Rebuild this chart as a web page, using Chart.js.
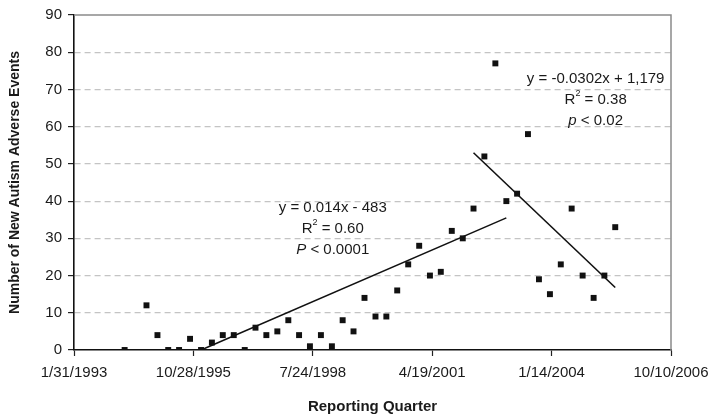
<!DOCTYPE html>
<html>
<head>
<meta charset="utf-8">
<script src="https://cdn.jsdelivr.net/npm/chart.js@4/dist/chart.umd.min.js"></script>
<style>
  html, body { margin: 0; padding: 0; background: #fff; }
  #wrap { width: 711px; height: 419px; }
</style>
</head>
<body>
<div id="wrap"><canvas id="chart"></canvas></div>
<script>
// quarter-end dates and counts of new autism adverse events
const quarters = [
  "1994-03-31", "1994-09-30", "1994-12-31",
  "1995-03-31", "1995-06-30", "1995-09-30", "1995-12-31",
  "1996-03-31", "1996-06-30", "1996-09-30", "1996-12-31",
  "1997-03-31", "1997-06-30", "1997-09-30", "1997-12-31",
  "1998-03-31", "1998-06-30", "1998-09-30", "1998-12-31",
  "1999-03-31", "1999-06-30", "1999-09-30", "1999-12-31",
  "2000-03-31", "2000-06-30", "2000-09-30", "2000-12-31",
  "2001-03-31", "2001-06-30", "2001-09-30", "2001-12-31",
  "2002-03-31", "2002-06-30", "2002-09-30", "2002-12-31",
  "2003-03-31", "2003-06-30", "2003-09-30", "2003-12-31",
  "2004-03-31", "2004-06-30", "2004-09-30", "2004-12-31",
  "2005-03-31", "2005-06-30"
];
const events = [
  0, 12, 4,
  0, 0, 3, 0,
  2, 4, 4, 0,
  6, 4, 5, 8,
  4, 1, 4, 1,
  8, 5, 14, 9,
  9, 16, 23, 28,
  20, 21, 32, 30,
  38, 52, 77, 40,
  42, 58, 19, 15,
  23, 38, 20, 14,
  20, 33
];
// fitted trend lines (end points)
const trendUpDates = ["1995-12-31", "2002-12-31"];
const trendUpValues = [0, 35.5];
const trendDownDates = ["2002-03-31", "2005-06-30"];
const trendDownValues = [53, 16.8];

const xTickLabels = ["1/31/1993", "10/28/1995", "7/24/1998", "4/19/2001", "1/14/2004", "10/10/2006"];
const yTicks = [0, 10, 20, 30, 40, 50, 60, 70, 80, 90];

// Excel-style day serial, so the axis runs 34000..39000
function serial(d) {
  const [y, m, day] = d.split("-").map(Number);
  return Date.UTC(y, m - 1, day) / 86400000 + 25569;
}
const pts = (dates, vals) => dates.map((d, i) => ({ x: serial(d), y: vals[i] }));

const FONT = "'Liberation Sans', Arial, sans-serif";

const notes = [
  { x: serial("1999-01-07"), y: 38.2, lines: [
    [{ t: "y = 0.014x - 483" }],
    [{ t: "R" }, { t: "2", sup: true }, { t: " = 0.60" }],
    [{ t: "P", it: true }, { t: " < 0.0001" }],
  ]},
  { x: serial("2005-01-17"), y: 72.9, lines: [
    [{ t: "y = -0.0302x + 1,179" }],
    [{ t: "R" }, { t: "2", sup: true }, { t: " = 0.38" }],
    [{ t: "p", it: true }, { t: " < 0.02" }],
  ]},
];

const notesPlugin = {
  id: "notes",
  afterDatasetsDraw(chart) {
    const { ctx, scales: { x, y } } = chart;
    ctx.save();
    ctx.fillStyle = "#1a1a1a";
    ctx.textBaseline = "middle";
    ctx.textAlign = "left";
    notes.forEach((n) => {
      const cx = x.getPixelForValue(n.x);
      let cy = y.getPixelForValue(n.y);
      n.lines.forEach((segs) => {
        const fonts = segs.map((s) => s.sup ? `9px ${FONT}` : (s.it ? `italic 15px ${FONT}` : `15px ${FONT}`));
        const widths = segs.map((s, i) => { ctx.font = fonts[i]; return ctx.measureText(s.t).width; });
        let px = cx - widths.reduce((a, b) => a + b, 0) / 2;
        segs.forEach((s, i) => {
          ctx.font = fonts[i];
          ctx.fillText(s.t, px, s.sup ? cy - 6 : cy);
          px += widths[i];
        });
        cy += 21;
      });
    });
    ctx.restore();
  },
};

// gray top/right frame of the plot area
const framePlugin = {
  id: "frame",
  beforeDatasetsDraw(chart) {
    const { ctx, chartArea: a } = chart;
    ctx.save();
    ctx.strokeStyle = "#8a8a8a";
    ctx.lineWidth = 1.5;
    ctx.beginPath();
    ctx.moveTo(a.left, a.top);
    ctx.lineTo(a.right, a.top);
    ctx.lineTo(a.right, a.bottom);
    ctx.stroke();
    ctx.restore();
  },
};

const bgPlugin = {
  id: "bg",
  beforeDraw(chart) {
    const { ctx, width, height } = chart;
    ctx.save();
    ctx.fillStyle = "#fff";
    ctx.fillRect(0, 0, width, height);
    ctx.restore();
  },
};

new Chart(document.getElementById("chart"), {
  type: "scatter",
  data: {
    datasets: [
      {
        label: "Events",
        data: pts(quarters, events),
        pointStyle: "rect",
        pointRadius: 4.2,
        pointBorderWidth: 0,
        backgroundColor: "#111",
        borderColor: "#111",
      },
      {
        label: "Trend 1995-2002",
        data: pts(trendUpDates, trendUpValues),
        showLine: true,
        pointRadius: 0,
        borderColor: "#111",
        borderWidth: 1.6,
      },
      {
        label: "Trend 2002-2005",
        data: pts(trendDownDates, trendDownValues),
        showLine: true,
        pointRadius: 0,
        borderColor: "#111",
        borderWidth: 1.6,
      },
    ],
  },
  options: {
    responsive: true,
    maintainAspectRatio: false,
    animation: false,
    layout: { padding: { left: 0, right: 40, top: 13, bottom: 0 } },
    plugins: { legend: { display: false }, tooltip: { enabled: false } },
    scales: {
      x: {
        type: "linear",
        min: 34000,
        max: 39000,
        afterBuildTicks: (s) => { s.ticks = xTickLabels.map((_, i) => ({ value: 34000 + i * 1000 })); },
        afterFit: (s) => { s.height = 69; s.paddingLeft = 0; s.paddingRight = 0; },
        ticks: {
          autoSkip: false,
          maxRotation: 0,
          padding: 8,
          color: "#1a1a1a",
          font: { family: FONT, size: 15 },
          callback: (v, i) => xTickLabels[i],
        },
        grid: { drawOnChartArea: false, drawTicks: true, tickLength: 6, tickColor: "#222", tickWidth: 1.2 },
        border: { color: "#111", width: 1.6 },
        title: {
          display: true,
          text: "Reporting Quarter",
          color: "#1a1a1a",
          font: { family: FONT, size: 15, weight: "bold" },
          padding: { top: 0, bottom: 3 },
        },
      },
      y: {
        min: 0,
        max: 90,
        afterBuildTicks: (s) => { s.ticks = yTicks.map((v) => ({ value: v })); },
        afterFit: (s) => { s.width = 74; },
        ticks: {
          padding: 6,
          color: "#1a1a1a",
          font: { family: FONT, size: 15 },
        },
        grid: {
          color: (c) => (c.tick && (c.tick.value === 0 || c.tick.value === 90)) ? "rgba(0,0,0,0)" : "#c4c4c4",
          lineWidth: 1.2,
          tickLength: 6,
          tickColor: "#222",
          tickWidth: 1.2,
        },
        border: { color: "#111", width: 1.6, dash: [6, 4] },
        title: {
          display: true,
          text: "Number of New Autism Adverse Events",
          color: "#1a1a1a",
          font: { family: FONT, size: 14, weight: "bold" },
          padding: { top: 7, bottom: 0 },
        },
      },
    },
  },
  plugins: [bgPlugin, framePlugin, notesPlugin],
});
</script>
</body>
</html>
